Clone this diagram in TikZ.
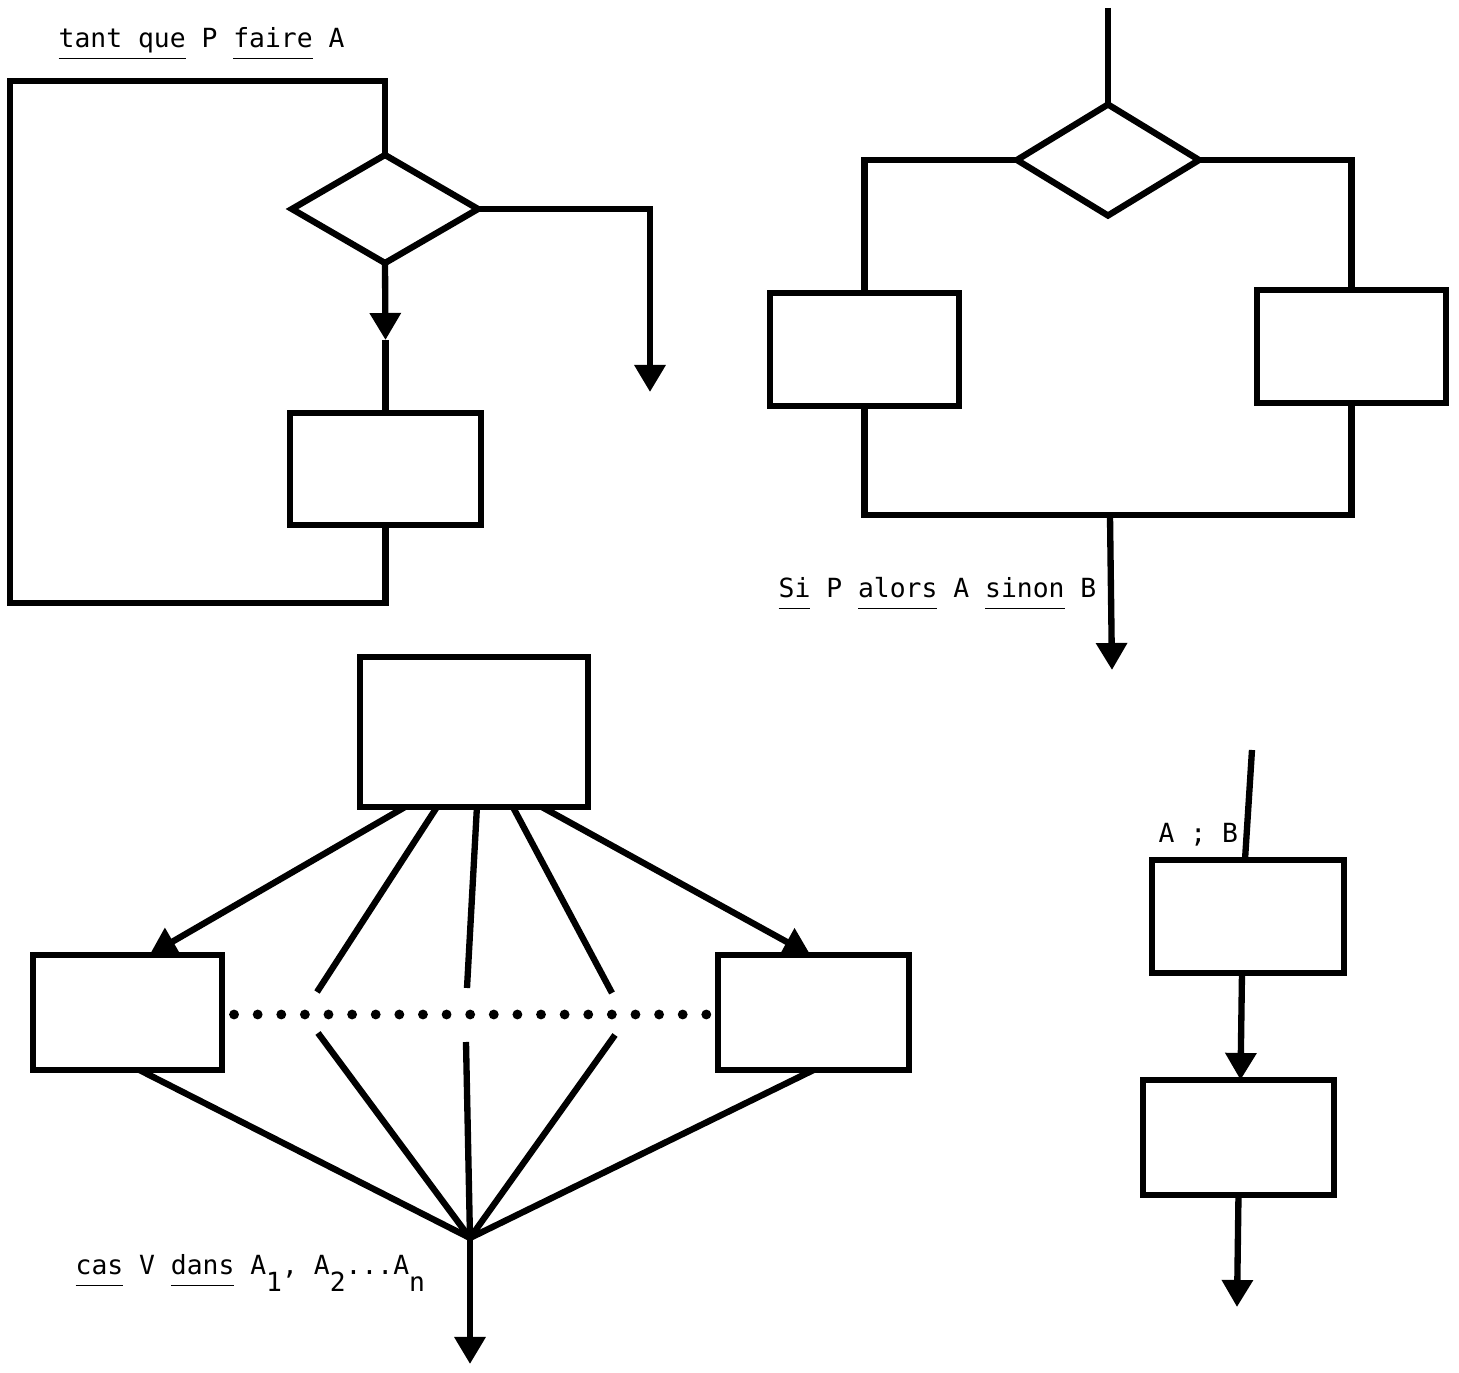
\documentclass[tikz,border=0pt]{standalone}
\usepackage{fontspec}
\setmonofont{DejaVu Sans Mono}
\usetikzlibrary{shapes.geometric,arrows.meta,calc}
\newcommand{\kw}[1]{\underline{#1\vphantom{gq}}}
\newcommand{\idx}[1]{\raisebox{-4.6pt}{#1}}
\tikzset{
  block/.style   = {shape=rectangle, draw, inner sep=0pt, outer sep=0pt,
                    line width=1.8pt},
  test/.style    = {shape=diamond, draw, inner sep=0pt, outer sep=0pt,
                    line width=1.8pt,
                    minimum width=1.86cm, minimum height=1.08cm},
  flow/.style    = {draw, line width=1.8pt},
  arrow/.style   = {flow, -{Triangle[width=0.3cm, length=0.27cm]}},
  ellipsis/.style = {draw, line width=2.8pt, line cap=round,
                    dash pattern=on 0pt off 0.236cm},
  caption/.style = {anchor=base west, inner sep=0pt,
                    font=\ttfamily\fontsize{7.5}{9}\selectfont}
}
\begin{document}
\begin{tikzpicture}[x=0.01cm, y=-0.01cm]
  \useasboundingbox (0,0) rectangle (1459,1373);

  % tant que P faire A
  \node [caption] (while) at (58,48) {\kw{tant que} P \kw{faire} A};
  \node [test] (cond1) at (385,209) {};
  \node [block, minimum width=1.91cm, minimum height=1.12cm] (body1) at (385.5,469) {};
  \coordinate (mid1) at (385.5,340);
  \coordinate (exit1) at (650,392);
  \draw [arrow] (cond1.south) -- (mid1);
  \draw [flow] (mid1) -- (body1.north);
  \draw [flow] (body1.south) -- ++(0,78) -| (10,81) -| (cond1.north);
  \draw [arrow] (cond1.east) -| (exit1);

  % Si P alors A sinon B
  \node [test, minimum width=1.82cm, minimum height=1.11cm] (cond2) at (1108,160) {};
  \node [block, minimum width=1.89cm, minimum height=1.13cm] (then2) at (864.5,349.5) {};
  \node [block, minimum width=1.89cm, minimum height=1.13cm] (else2) at (1351.5,346.5) {};
  \coordinate (in2) at (1108,8);
  \coordinate (join2) at (1110,515);
  \coordinate (out2) at (1112,670);
  \draw [flow] (in2) -- (cond2.north);
  \draw [flow] (cond2.west) -| (then2.north);
  \draw [flow] (cond2.east) -| (else2.north);
  \draw [flow] (then2.south) |- (join2) -| (else2.south);
  \draw [arrow] (join2) -- (out2);
  \node [caption] (ifelse) at (778,598) {\kw{Si} P \kw{alors} A \kw{sinon} B};

  % cas V dans A1, A2...An
  \node [block, minimum width=2.28cm, minimum height=1.5cm] (sel) at (474,732) {};
  \node [block, minimum width=1.89cm, minimum height=1.15cm] (case1) at (127.5,1012.5) {};
  \node [block, minimum width=1.91cm, minimum height=1.15cm] (casen) at (813.5,1012.5) {};
  \coordinate (g1) at (317,992);
  \coordinate (g2) at (467,988);
  \coordinate (g3) at (612,993);
  \coordinate (h1) at (318,1033);
  \coordinate (h2) at (466,1042);
  \coordinate (h3) at (615,1035);
  \coordinate (hub) at (470,1238);
  \coordinate (out3) at (470,1364);
  \draw [arrow] ($(sel.south west)+(45,0)$) -- ($(case1.north)+(22,0)$);
  \draw [flow] ($(sel.south west)+(77,0)$) -- (g1);
  \draw [flow] ($(sel.south west)+(117,0)$) -- (g2);
  \draw [flow] ($(sel.south west)+(153,0)$) -- (g3);
  \draw [arrow] ($(sel.south west)+(182,0)$) -- ($(casen.north)+(-3,0)$);
  \draw [ellipsis] ($(case1.east)+(12,2)$) -- ($(casen.west)+(-8,2)$);
  \draw [flow] ($(case1.south)+(12,0)$) -- (hub);
  \draw [flow] (h1) -- (hub);
  \draw [flow] (h2) -- (hub);
  \draw [flow] (h3) -- (hub);
  \draw [flow] (casen.south) -- (hub);
  \draw [arrow] (hub) -- (out3);
  \node [caption] (switch) at (75,1275) {\kw{cas} V \kw{dans} A\idx{1}, A\idx{2}...A\idx{n}};

  % A ; B
  \node [block, minimum width=1.92cm, minimum height=1.13cm] (first) at (1248,916.5) {};
  \node [block, minimum width=1.91cm, minimum height=1.15cm] (second) at (1238.5,1137.5) {};
  \coordinate (in4) at (1252,750);
  \coordinate (out4) at (1237,1307);
  \draw [flow] (in4) -- ($(first.north)+(-3,0)$);
  \draw [arrow] ($(first.south)+(-6,0)$) -- ($(second.north)+(2,0)$);
  \draw [arrow] (second.south) -- (out4);
  \node [caption] (seq) at (1158,843) {A ; B};
\end{tikzpicture}
\end{document}
